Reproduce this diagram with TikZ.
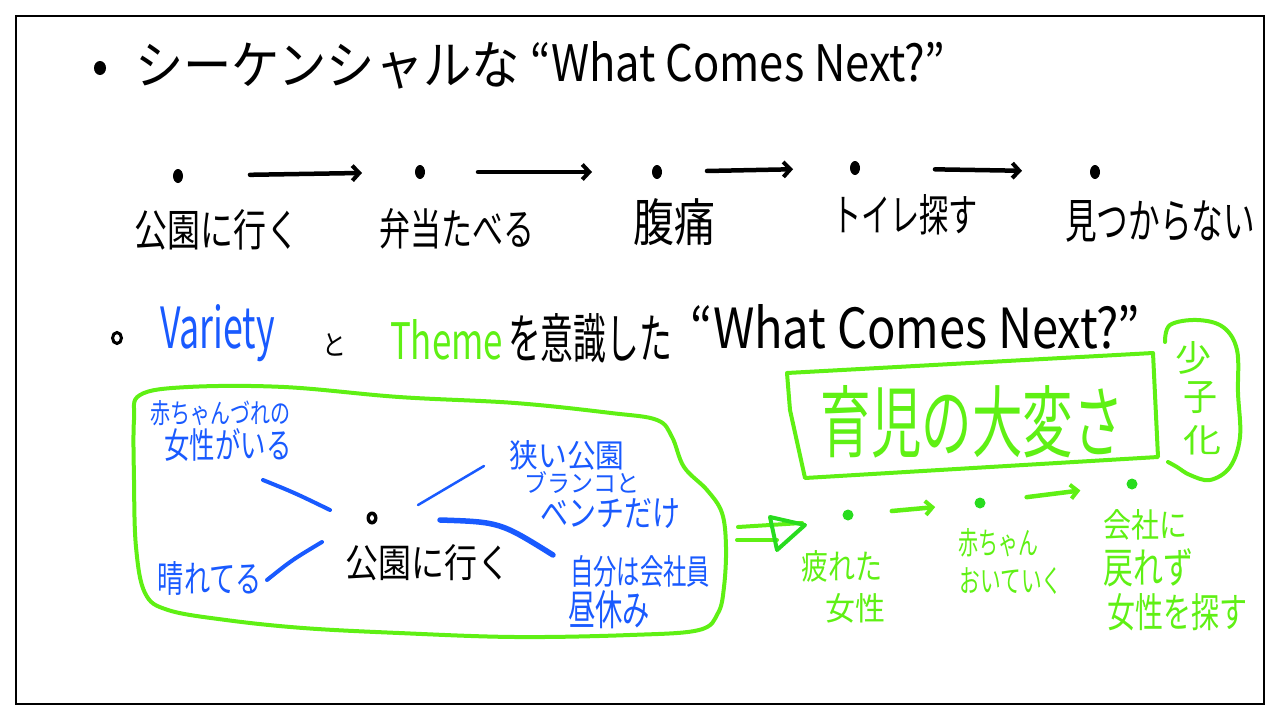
\documentclass[tikz,border=0pt]{standalone}
\usepackage{fontspec}
\setmainfont{Noto Sans CJK JP}
\usetikzlibrary{arrows.meta}
\definecolor{inkblue}{RGB}{25,90,255}
\definecolor{inkgreen}{RGB}{95,240,20}
\definecolor{dotgreen}{RGB}{40,220,30}
\newcommand{\fitto}[3]{\resizebox{#1pt}{#2pt}{#3}}
\begin{document}
\begin{tikzpicture}[x=1pt,y=-1pt,
  txt/.style={inner sep=0pt, outer sep=0pt},
  blk/.style={txt, text=black},
  blu/.style={txt, text=inkblue},
  grn/.style={txt, text=inkgreen},
  blkarr/.style={line width=4.5pt, line cap=round, -{Straight Barb[length=7pt,width=15pt,line width=4pt]}},
  grnarr/.style={line width=4.5pt, line cap=round, draw=inkgreen, -{Straight Barb[length=7pt,width=14pt,line width=4pt]}},
  bluline/.style={line width=4pt, line cap=round, draw=inkblue},
  grnline/.style={line width=4pt, line join=round, line cap=round, draw=inkgreen}]
\useasboundingbox (0,0) rectangle (1280,720);
\draw[line width=2pt] (16,16) rectangle (1264,704);

% ---- line 1
\fill (100,68) ellipse [x radius=6pt, y radius=7pt];
\node[blk, anchor=west] (t1a) at (135,66) {\fitto{385}{42}{シーケンシャルな}};
\node[blk, anchor=west] (t1b) at (530,62) {\fitto{415}{40}{“What Comes Next?”}};

% ---- sequence row
\coordinate (d1) at (178,176);
\coordinate (d2) at (420,172);
\coordinate (d3) at (657,172);
\coordinate (d4) at (855,168);
\coordinate (d5) at (1095,172);
\foreach \d in {d1,d2,d3,d4,d5}{\fill (\d) ellipse [x radius=5pt, y radius=7pt];}
\draw[blkarr, shorten <=72pt, shorten >=58pt] (d1) -- (d2);
\draw[blkarr, shorten <=58pt, shorten >=65pt] (d2) -- (d3);
\draw[blkarr, shorten <=50pt, shorten >=62pt] (d3) -- (d4);
\draw[blkarr, shorten <=80pt, shorten >=73pt] (d4) -- (d5);
\node[blk] (s1) at (217,230) {\fitto{165}{37}{公園に行く}};
\node[blk] (s2) at (457,229) {\fitto{155}{37}{弁当たべる}};
\node[blk] (s3) at (674,222) {\fitto{82}{43}{腹痛}};
\node[blk] (s4) at (905,215) {\fitto{146}{37}{トイレ探す}};
\node[blk] (s5) at (1160,221) {\fitto{190}{38}{見つからない}};

% ---- line 3
\draw[line width=3pt] (117,338) ellipse [x radius=4.5pt, y radius=5.5pt];
\node[blu, anchor=west] (v) at (160,333) {\fitto{115}{44}{Variety}};
\node[blk, anchor=west] (to) at (322,345) {\fitto{24}{22}{と}};
\node[grn, anchor=west] (th) at (390,340) {\fitto{113}{40}{Theme}};
\node[blk, anchor=west] (ish) at (508,338) {\fitto{164}{45}{を意識した}};
\node[blk, anchor=west] (wcn) at (690,327) {\fitto{450}{44}{“What Comes Next?”}};

% ---- blob (left)
\draw[grnline] plot[smooth cycle, tension=0.6] coordinates {
 (140,395) (188,387) (284,387) (399,397) (515,403) (611,413) (657,420)
 (672,437) (684,467) (707,490) (722,513) (726,547) (724,587) (718,613)
 (699,630) (630,635) (515,637) (399,633) (303,628) (226,620) (168,610)
 (145,593) (136,547) (134,480) (134,420)};
\coordinate (c) at (372,518);
\fill (c) ellipse [x radius=5.5pt, y radius=6.5pt];
\fill[white] (c) ellipse [x radius=2pt, y radius=2.8pt];
\node[blk] (park) at (428,563) {\fitto{165}{33}{公園に行く}};
\node[blu] (a1) at (220,413) {\fitto{140}{23}{赤ちゃんづれの}};
\node[blu] (a2) at (228,445) {\fitto{127}{30}{女性がいる}};
\node[blu] (b1) at (567,455) {\fitto{115}{27}{狭い公園}};
\node[blu] (b2) at (582,482) {\fitto{115}{21}{ブランコと}};
\node[blu] (b3) at (610,514) {\fitto{140}{28}{ベンチだけ}};
\node[blu] (h1) at (210,578) {\fitto{104}{31}{晴れてる}};
\node[blu] (e1) at (640,571) {\fitto{140}{29}{自分は会社員}};
\node[blu] (e2) at (609,610) {\fitto{82}{35}{昼休み}};
\coordinate (l1s) at (263,480); \coordinate (l1e) at (330,510);
\coordinate (l2s) at (322,542); \coordinate (l2e) at (267,580);
\coordinate (l3s) at (418,505); \coordinate (l3e) at (484,466);
\coordinate (l4s) at (440,520); \coordinate (l4e) at (553,555);
\draw[bluline] (l1s) .. controls (295,493) .. (l1e);
\draw[bluline] (l2s) .. controls (292,560) .. (l2e);
\draw[bluline, line width=2.5pt] (l3s) -- (l3e);
\draw[bluline, line width=5.5pt] (l4s) .. controls (500,522) .. (l4e);

% ---- double arrow
\coordinate (da1) at (738,527); \coordinate (da2) at (802,523);
\coordinate (da3) at (737,540); \coordinate (da4) at (777,540);
\draw[grnline] (da1) -- (da2);
\draw[grnline] (da3) -- (da4);
\draw[grnline, draw=dotgreen] (770,517) -- (805,525) -- (777,550) -- cycle;

% ---- box and blob (right)
\draw[grnline] (787,373) -- (1153,353) -- (1158,457) -- (805,478) -- (790,410) -- cycle;
\node[grn] (ik) at (972,422) {\fitto{303}{66}{育児の大変さ}};
\draw[grnline] plot[smooth, tension=0.6] coordinates {
 (1165,342) (1170,325) (1197,320) (1223,327) (1237,350) (1238,393)
 (1240,437) (1230,467) (1210,480) (1190,475) (1177,467) (1168,462)};
\node[grn] (k1) at (1193,358) {\fitto{36}{30}{少}};
\node[grn] (k2) at (1200,398) {\fitto{34}{29}{子}};
\node[grn] (k3) at (1202,440) {\fitto{38}{27}{化}};

% ---- green sequence
\coordinate (g1) at (848,515);
\coordinate (g2) at (980,503);
\coordinate (g3) at (1132,484);
\foreach \d in {g1,g2,g3}{\fill[dotgreen] (\d) circle (5.5pt);}
\draw[grnarr, shorten <=44pt, shorten >=45pt] (g1) -- (g2);
\draw[grnarr, shorten <=47pt, shorten >=52pt] (g2) -- (g3);
\node[grn] (n1) at (842,566) {\fitto{81}{29}{疲れた}};
\node[grn] (n2) at (855,608) {\fitto{60}{27}{女性}};
\node[grn] (n3) at (998,543) {\fitto{80}{26}{赤ちゃん}};
\node[grn] (n4) at (1011,581) {\fitto{103}{25}{おいていく}};
\node[grn] (n5) at (1145,525) {\fitto{84}{28}{会社に}};
\node[grn] (n6) at (1148,568) {\fitto{90}{35}{戻れず}};
\node[grn] (n7) at (1177,612) {\fitto{140}{34}{女性を探す}};
\end{tikzpicture}
\end{document}
